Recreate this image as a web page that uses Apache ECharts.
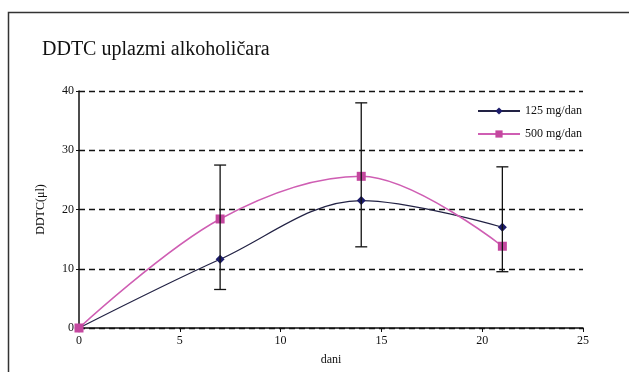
<!DOCTYPE html>
<html><head><meta charset="utf-8">
<script src="https://cdn.jsdelivr.net/npm/echarts@6/dist/echarts.min.js"></script>
<style>html,body{margin:0;padding:0;background:#fff}#c{width:629px;height:372px}</style>
</head><body><div id="c"></div>
<script>
const days = [0, 7, 14, 21];
const dose125 = [0, 11.6, 21.5, 17.0];
const dose500 = [0, 18.4, 25.6, 13.8];
const errDays = [7, 14, 21];
const errLow = [6.5, 13.7, 9.5];
const errHigh = [27.5, 38.0, 27.2];
const xTicks = [0, 5, 10, 15, 20, 25];
const yTicks = [0, 10, 20, 30, 40];

const serif = '"Liberation Serif", "DejaVu Serif", serif';
const chart = echarts.init(document.getElementById('c'));
chart.setOption({
  animation: false,
  backgroundColor: '#fff',
  graphic: [{type:'rect', shape:{x:8.5,y:12.5,width:640,height:400}, style:{fill:'none',stroke:'#333',lineWidth:1.5}}],
  title: {text:'DDTC uplazmi alkoholičara', left:37, top:35, textStyle:{fontFamily:serif, fontWeight:'normal', fontSize:20, color:'#111'}},
  legend: {orient:'vertical', right:42, top:100, itemGap:11, itemWidth:42, itemHeight:9,
    textStyle:{fontFamily:serif, fontSize:12, color:'#111'},
    data:['125 mg/dan','500 mg/dan']},
  grid: {left:79, right:46, top:91, bottom:44},
  xAxis: {type:'value', min:0, max:25, interval:5, name:'dani', nameLocation:'middle', nameGap:26,
    nameTextStyle:{fontFamily:serif, fontSize:12, color:'#111'},
    axisLine:{lineStyle:{color:'#111', width:1.5}}, axisTick:{show:true, length:4, lineStyle:{color:'#111'}},
    axisLabel:{fontFamily:serif, fontSize:12, color:'#111', margin:7, formatter:v=>xTicks.includes(v)?String(v):''},
    splitLine:{show:false}},
  yAxis: {type:'value', min:0, max:40, interval:10, name:'DDTC(μl)', nameLocation:'middle', nameGap:32, nameRotate:90,
    nameTextStyle:{fontFamily:serif, fontSize:12, color:'#111'},
    axisLine:{show:true, lineStyle:{color:'#111', width:1.5}}, axisTick:{show:true, length:3, lineStyle:{color:'#111'}},
    axisLabel:{fontFamily:serif, fontSize:12, color:'#111', margin:5, formatter:v=>yTicks.includes(v)?String(v):''},
    splitLine:{show:true, lineStyle:{color:'#111', type:[6,4], width:1.4}}},
  series: [
    {name:'125 mg/dan', type:'line', smooth:0.35, data:days.map((d,i)=>[d,dose125[i]]),
      symbol:'diamond', symbolSize:9, itemStyle:{color:'#1c1c6a'}, lineStyle:{color:'#222244', width:1.2}, z:3},
    {name:'500 mg/dan', type:'line', smooth:0.35, data:days.map((d,i)=>[d,dose500[i]]),
      symbol:'rect', symbolSize:9, itemStyle:{color:'#c4479f'}, lineStyle:{color:'#cf5eb3', width:1.5}, z:3},
    {name:'err', type:'custom', z:4, data:errDays.map((d,i)=>[d,errLow[i],errHigh[i]]),
      renderItem:function(params, api){
        const x = api.value(0);
        const lo = api.coord([x, api.value(1)]);
        const hi = api.coord([x, api.value(2)]);
        const w = 6;
        const st = {stroke:'#111', lineWidth:1.3};
        return {type:'group', children:[
          {type:'line', shape:{x1:lo[0],y1:lo[1],x2:hi[0],y2:hi[1]}, style:st},
          {type:'line', shape:{x1:lo[0]-w,y1:lo[1],x2:lo[0]+w,y2:lo[1]}, style:st},
          {type:'line', shape:{x1:hi[0]-w,y1:hi[1],x2:hi[0]+w,y2:hi[1]}, style:st}
        ]};
      }}
  ]
});
</script></body></html>
